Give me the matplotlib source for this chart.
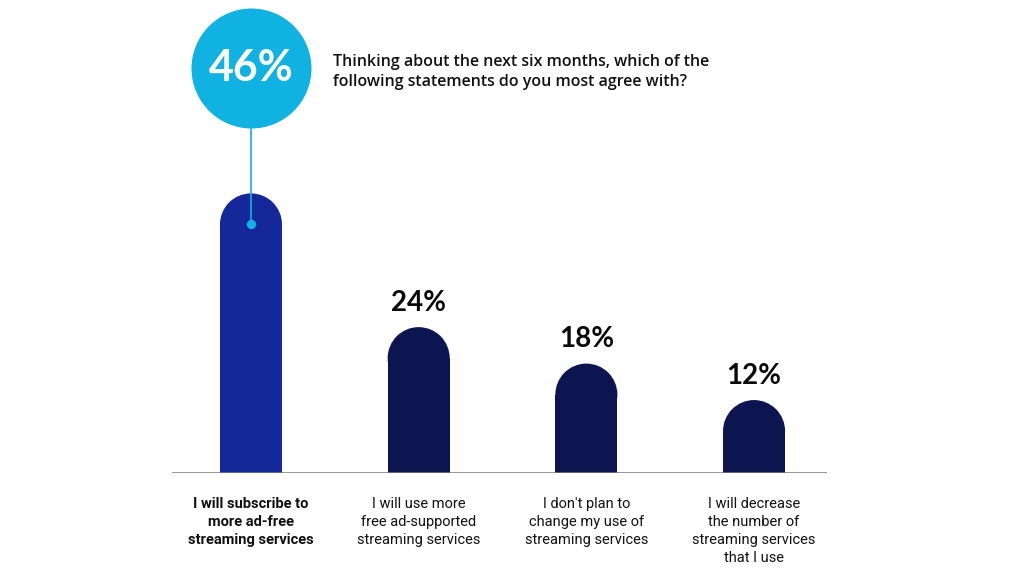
import matplotlib
matplotlib.use("Agg")
import matplotlib.pyplot as plt
from matplotlib.patches import Ellipse

categories = [
    "I will subscribe to\nmore ad-free\nstreaming services",
    "I will use more\nfree ad-supported\nstreaming services",
    "I don't plan to\nchange my use of\nstreaming services",
    "I will decrease\nthe number of\nstreaming services\nthat I use",
]
values = [46, 24, 18, 12]
value_labels = ["46%", "24%", "18%", "12%"]
title = "Thinking about the next six months, which of the\nfollowing statements do you most agree with?"

W, H = 1010, 568
DPI = 100
fig = plt.figure(figsize=(W / DPI, H / DPI), dpi=DPI)
fig.patch.set_facecolor("white")

ax_left, ax_right, ax_base, ax_top = 172, 827, 473, 8
ax = fig.add_axes([ax_left / W, (H - ax_base) / H, (ax_right - ax_left) / W, (ax_base - ax_top) / H])
ax.set_xlim(-0.471, 3.435)
ax.set_ylim(0, 76.5)
ax.axis("off")

bar_w = 0.37
hi_color = "#14289a"
lo_color = "#0c1550"
cyan = "#10b2e2"

px_per_x = (ax_right - ax_left) / (3.435 + 0.471)
px_per_y = (ax_base - ax_top) / 76.5
r_px = bar_w / 2 * px_per_x
r_y = r_px / px_per_y

for i, v in enumerate(values):
    c = hi_color if i == 0 else lo_color
    ax.bar(i, v - r_y, width=bar_w, color=c, linewidth=0)
    ax.add_patch(Ellipse((i, v - r_y), bar_w, 2 * r_y, color=c, linewidth=0))
    if i > 0:
        ax.annotate(value_labels[i], xy=(i, v), xytext=(0, 8), textcoords="offset points",
                    ha="center", va="bottom", fontsize=20, fontweight="bold",
                    family="Lato", color="#0a0a0a")
    ax.annotate(categories[i], xy=(i, 0), xytext=(0, -17), textcoords="offset points",
                ha="center", va="top", fontsize=10.5, linespacing=1.38,
                family="Roboto", color="#111111",
                fontweight="bold" if i == 0 else "normal")

ax.axhline(0, color="#7a7a7a", linewidth=1.1)

circ_r_px = 60
circ_cy = (ax_base - 68) / px_per_y
ax.scatter([0], [circ_cy], s=(2 * circ_r_px * 72 / DPI) ** 2, color=cyan,
           linewidths=0, clip_on=False, zorder=5)
ax.text(0, circ_cy, value_labels[0], ha="center", va="center", fontsize=31,
        fontweight="bold", family="Lato", color="white", zorder=6)
dot_y = values[0] - r_y
ax.plot([0, 0], [circ_cy - circ_r_px / px_per_y, dot_y], color=cyan, linewidth=1.2, zorder=4)
ax.scatter([0], [dot_y], s=45, color=cyan, linewidths=0, zorder=6)

fig.text(333 / W, 1 - 72 / H, title, ha="left", va="center", fontsize=11.5,
         family="Open Sans", fontweight="semibold", color="#111111", linespacing=1.35)

fig.savefig("out.png", dpi=DPI)
